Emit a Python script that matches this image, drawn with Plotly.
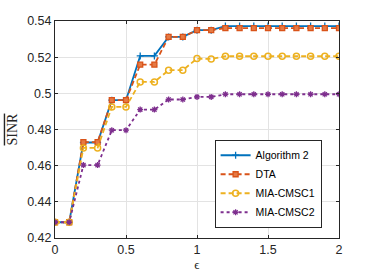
import plotly.graph_objects as go

eps = [0.0, 0.1, 0.2, 0.3, 0.4, 0.5, 0.6, 0.7, 0.8, 0.9, 1.0,
       1.1, 1.2, 1.3, 1.4, 1.5, 1.6, 1.7, 1.8, 1.9, 2.0]

alg2 = [0.4287, 0.4287, 0.4728, 0.4728, 0.4962, 0.4962, 0.5207, 0.5207, 0.5312, 0.5312, 0.5349,
        0.5349, 0.5372, 0.5372, 0.5372, 0.5372, 0.5372, 0.5372, 0.5372, 0.5372, 0.5372]
dta = [0.4287, 0.4287, 0.4730, 0.4730, 0.4962, 0.4962, 0.5159, 0.5159, 0.5312, 0.5312, 0.5349,
       0.5349, 0.5361, 0.5361, 0.5361, 0.5361, 0.5361, 0.5361, 0.5361, 0.5361, 0.5361]
cmsc1 = [0.4287, 0.4287, 0.4698, 0.4698, 0.4925, 0.4925, 0.5063, 0.5063, 0.5128, 0.5128, 0.5192,
         0.5190, 0.5205, 0.5205, 0.5205, 0.5205, 0.5205, 0.5205, 0.5205, 0.5205, 0.5205]
cmsc2 = [0.4287, 0.4287, 0.4603, 0.4603, 0.4796, 0.4796, 0.4910, 0.4910, 0.4966, 0.4966, 0.4980,
         0.4980, 0.4995, 0.4995, 0.4995, 0.4995, 0.4995, 0.4995, 0.4995, 0.4995, 0.4995]

names = ["Algorithm 2", "DTA", "MIA-CMSC1", "MIA-CMSC2"]
xticks = [0, 0.5, 1, 1.5, 2]
xticktext = ["0", "0.5", "1", "1.5", "2"]
yticks = [0.42, 0.44, 0.46, 0.48, 0.50, 0.52, 0.54]
yticktext = ["0.42", "0.44", "0.46", "0.48", "0.5", "0.52", "0.54"]

fig = go.Figure()
fig.add_trace(go.Scatter(x=eps, y=alg2, name=names[0], mode="lines+markers",
                         line=dict(color="#0072BD", width=1.8, dash="solid"),
                         marker=dict(symbol="cross-thin-open", size=5,
                                     line=dict(color="#0072BD", width=1.3))))
fig.add_trace(go.Scatter(x=eps, y=dta, name=names[1], mode="lines+markers",
                         line=dict(color="#D95319", width=1.8, dash="5px,3px"),
                         marker=dict(symbol="square", size=5, color="#E57A45",
                                     line=dict(color="#D95319", width=1.3))))
fig.add_trace(go.Scatter(x=eps, y=cmsc1, name=names[2], mode="lines+markers",
                         line=dict(color="#EDB120", width=1.8, dash="5px,3px"),
                         marker=dict(symbol="circle-open", size=6,
                                     line=dict(color="#EDB120", width=1.5))))
fig.add_trace(go.Scatter(x=eps, y=cmsc2, name=names[3], mode="lines+markers",
                         line=dict(color="#7E2F8E", width=1.8, dash="dot"),
                         marker=dict(symbol="asterisk-open", size=5,
                                     line=dict(color="#7E2F8E", width=1.3))))

axis_common = dict(showline=True, linecolor="#262626", linewidth=1, mirror="ticks",
                   ticks="inside", ticklen=3, tickcolor="#262626", automargin=False,
                   showgrid=True, gridcolor="#e3e3e3", gridwidth=1, zeroline=False,
                   tickfont=dict(family="Liberation Sans, Arial", size=12.5, color="#262626"))

fig.update_xaxes(range=[0, 2], tickvals=xticks, ticktext=xticktext,
                 title=dict(text="ϵ", standoff=2,
                            font=dict(family="Liberation Serif", size=13, color="#262626")),
                 **axis_common)
fig.update_yaxes(range=[0.42, 0.54], tickvals=yticks, ticktext=yticktext,
                 title=dict(text='<span style="text-decoration:overline">SINR</span>', standoff=6,
                            font=dict(family="Liberation Serif", size=14, color="#262626")),
                 **axis_common)

fig.update_layout(
    width=374, height=280,
    margin=dict(l=55, r=35, t=21, b=42),
    plot_bgcolor="white", paper_bgcolor="white",
    showlegend=True,
    legend=dict(x=0.562, y=0.25, xanchor="left", yanchor="middle",
                bgcolor="white", bordercolor="#262626", borderwidth=1,
                font=dict(family="Liberation Sans, Arial", size=10.5, color="#000000"),
                tracegroupgap=0, itemwidth=30),
)

fig.write_html("out.html", config={"displayModeBar": False},
               post_script="document.body.style.margin='0';document.body.style.overflow='hidden';")
